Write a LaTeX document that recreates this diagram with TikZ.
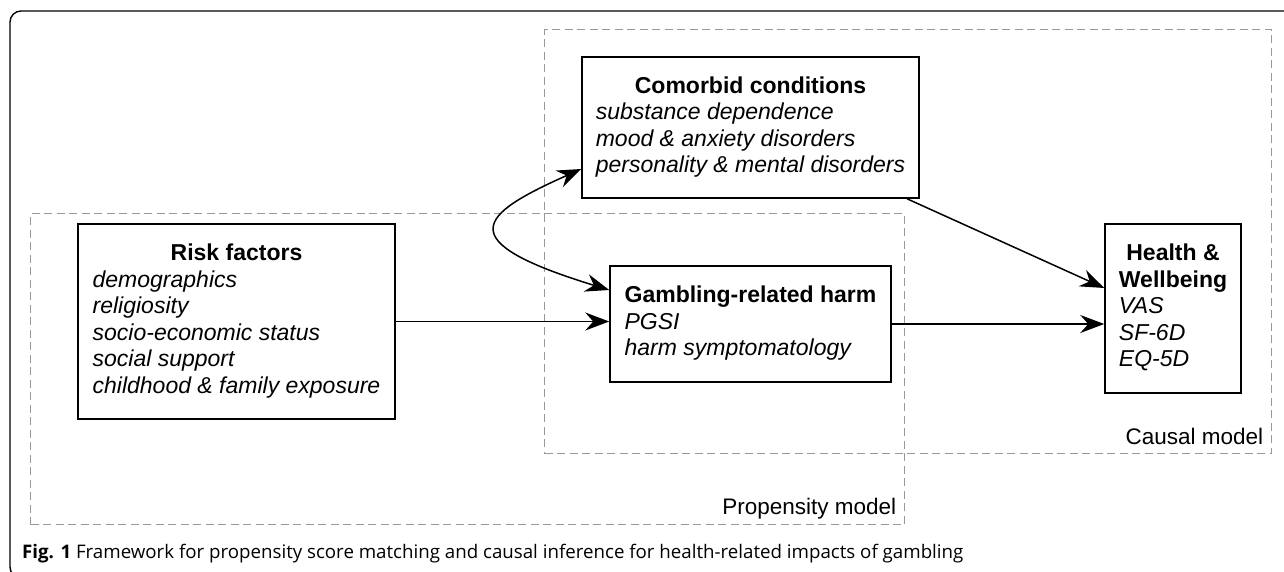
\documentclass[tikz,border=0pt]{standalone}
\usepackage{fontspec}
\usepackage{array}
\setmainfont{Liberation Sans}
\newfontfamily\capfont{Open Sans}
\usetikzlibrary{positioning,calc,arrows.meta}

\newcommand{\boxhead}[1]{\multicolumn{1}{@{}c@{}}{\bfseries #1}}
\newcolumntype{I}{>{\itshape}l}

\begin{document}
\begin{tikzpicture}[x=1pt, y=-1pt,
    >={Stealth[length=24pt,width=18pt,inset=8pt]},
    box/.style={draw, line width=1.5pt, inner sep=0pt, font=\fontsize{23}{26.5}\selectfont},
    region/.style={draw=gray!80, dash pattern=on 8pt off 4.5pt, line width=1.3pt, inner sep=0pt, anchor=north west},
    regionlabel/.style={anchor=base east, inner sep=0pt, font=\fontsize{22.5}{26}\selectfont},
    link/.style={line width=1.5pt, ->},
    twoway/.style={line width=1.5pt, <->}]
    \clip (0,0) rectangle (1284,571);
    % figure frame
    \draw[line width=1.4pt, rounded corners=11pt] (1300,11) -- (10,11) -- (10,578) -- (1300,578);

    % model regions
    \node[region, minimum width=874pt, minimum height=311pt] (propensity) at (30,213) {};
    \node[region, minimum width=727pt, minimum height=424pt] (causal) at (544,29) {};
    \node[regionlabel] (proplabel) at ([shift={(-9pt,11pt)}]propensity.south east) {Propensity model};
    \node[regionlabel] (causlabel) at ([shift={(-9pt,10pt)}]causal.south east) {Causal model};

    % boxes
    \node[box, minimum width=317pt, minimum height=195pt] (risk) at (236.5,321.5) {%
        \begin{tabular}{@{}I@{}}\boxhead{Risk factors}\\ demographics\\ religiosity\\
        socio-economic status\\ social support\\ childhood \& family exposure\end{tabular}};
    \node[box, minimum width=337pt, minimum height=141pt] (comorbid) at (750.5,127.5) {%
        \begin{tabular}{@{}I@{}}\boxhead{Comorbid conditions}\\ substance dependence\\
        mood \& anxiety disorders\\ personality \& mental disorders\end{tabular}};
    \node[box, minimum width=281pt, minimum height=116pt] (gambling) at (750.5,324) {%
        \begin{tabular}{@{}I@{}}\boxhead{Gambling-related harm}\\ PGSI\\ harm symptomatology\end{tabular}};
    \node[box, minimum width=136pt, minimum height=169pt] (health) at (1173,308.5) {%
        \begin{tabular}{@{}I@{}}\boxhead{Health \&}\\ \boxhead{Wellbeing}\\ VAS\\ SF-6D\\ EQ-5D\end{tabular}};

    % connectors
    \draw[link] (risk.east) -- (risk.east -| gambling.west);
    \draw[link] (gambling.east) -- (gambling.east -| health.west);
    \draw[link] ([xshift=156.5pt]comorbid.south) -- ([yshift=20.5pt]health.west);
    \draw[twoway] ([yshift=-41.5pt]comorbid.west) .. controls +(-103,46) and +(-160,-49) .. ([yshift=34pt]gambling.west);

    % caption
    \node[anchor=base west, inner sep=0pt, font=\capfont\fontsize{18.7}{22}\selectfont] (caption) at (22,558)
        {\textbf{Fig. 1} Framework for propensity score matching and causal inference for health-related impacts of gambling};
\end{tikzpicture}
\end{document}
